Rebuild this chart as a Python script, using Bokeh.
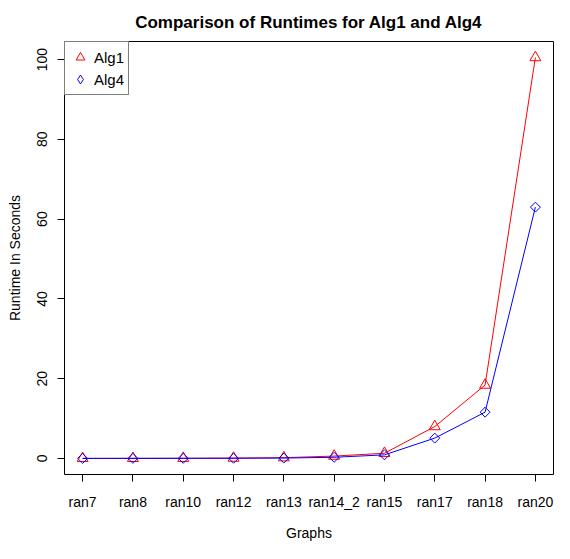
import math
from bokeh.plotting import figure
from bokeh.models import Range1d, FixedTicker, Legend, LegendItem
from bokeh.embed import file_html
from bokeh.resources import INLINE

categories = ["ran7", "ran8", "ran10", "ran12", "ran13", "ran14_2", "ran15", "ran17", "ran18", "ran20"]
alg1 = [0.02, 0.03, 0.05, 0.1, 0.2, 0.6, 1.3, 8.0, 18.4, 100.5]
alg4 = [0.01, 0.02, 0.03, 0.05, 0.1, 0.3, 0.9, 5.1, 11.6, 63.0]
y_ticks = [0, 20, 40, 60, 80, 100]

xs = list(range(1, len(categories) + 1))
ymax = max(alg1 + alg4)
ymin = 0.0
pad_y = (ymax - ymin) * 0.04
pad_x = (len(categories) - 1) * 0.04

FONT = "Liberation Sans"

p = figure(width=554, height=543, output_backend="svg", toolbar_location=None,
           x_range=Range1d(1 - pad_x, len(categories) + pad_x),
           y_range=Range1d(ymin - pad_y, ymax + pad_y),
           min_border_left=64, min_border_right=1, min_border_top=38, min_border_bottom=66)

p.title.text = "Comparison of Runtimes for Alg1 and Alg4"
p.title.text_font = FONT
p.title.text_font_size = "17px"
p.title.text_font_style = "bold"
p.title.align = "center"
p.title.standoff = 20
p.title.text_color = "black"

p.xgrid.visible = False
p.ygrid.visible = False
p.outline_line_color = "black"
p.outline_line_width = 1
p.background_fill_color = "white"
p.border_fill_color = "white"

xa = p.xaxis[0]
xa.ticker = FixedTicker(ticks=xs)
xa.major_label_overrides = {x: c for x, c in zip(xs, categories)}
xa.axis_label = "Graphs"
ya = p.yaxis[0]
ya.ticker = FixedTicker(ticks=y_ticks)
ya.axis_label = "Runtime In Seconds"
ya.major_label_orientation = "vertical"

for ax in (xa, ya):
    ax.axis_line_color = None
    ax.major_tick_line_color = "black"
    ax.major_tick_in = 0
    ax.major_tick_out = 7
    ax.minor_tick_line_color = None
    ax.major_label_text_font = FONT
    ax.major_label_text_font_size = "14px"
    ax.major_label_text_color = "black"
    ax.axis_label_text_font = FONT
    ax.axis_label_text_font_size = "14px"
    ax.axis_label_text_font_style = "normal"
    ax.axis_label_text_color = "black"

xa.major_label_standoff = 12
xa.axis_label_standoff = 12
ya.major_label_standoff = 10
ya.axis_label_standoff = 12

p.line(xs, alg1, line_color="#FF0000", line_width=1)
s1 = p.scatter(xs, alg1, marker="triangle", size=11, fill_color=None,
               line_color="#FF0000", line_width=1)
p.line(xs, alg4, line_color="#0000FF", line_width=1)
p.scatter(xs, alg4, marker="square", size=7, angle=math.pi / 4, fill_color=None,
          line_color="#0000FF", line_width=1)
# legend-only glyph (legend ignores marker angle); its single point is NaN so nothing is plotted
s4_leg = p.scatter(x=[float("nan")], y=[float("nan")], marker="diamond", size=13,
                   fill_color=None, line_color="#0000FF", line_width=1)

legend = Legend(items=[LegendItem(label="Alg1", renderers=[s1]),
                       LegendItem(label="Alg4", renderers=[s4_leg])],
                location="top_left", margin=0, padding=4, spacing=0,
                glyph_width=22, glyph_height=22, label_height=22, label_standoff=3,
                label_text_font=FONT, label_text_font_size="15px", label_text_color="black",
                border_line_color="black", border_line_width=1,
                background_fill_color="white", background_fill_alpha=1.0)
p.add_layout(legend)

open("out.html", "w").write(file_html(p, INLINE))
